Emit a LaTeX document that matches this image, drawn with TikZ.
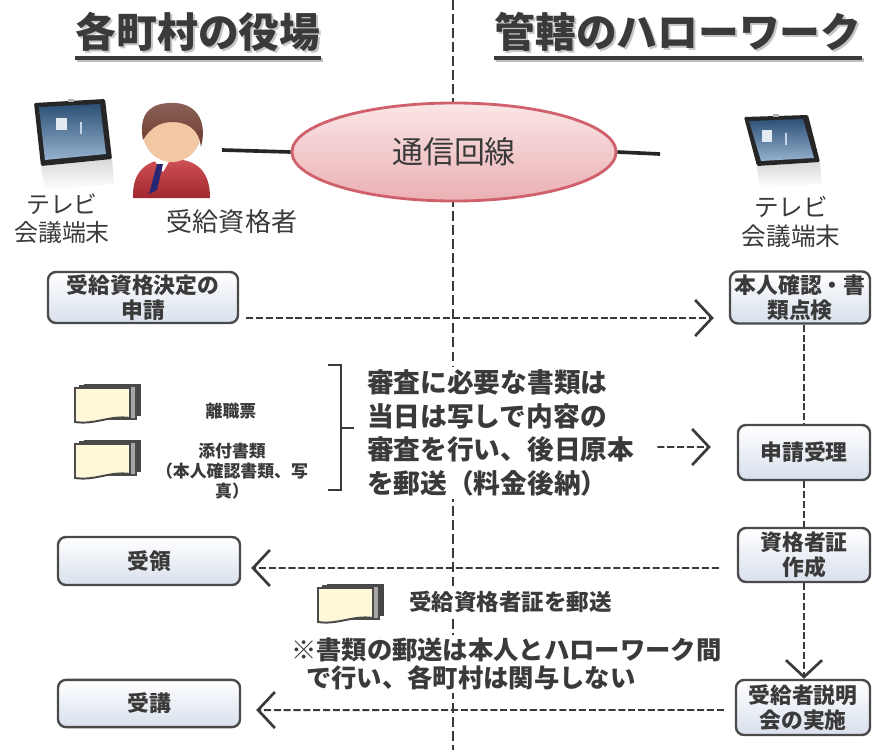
\documentclass[tikz,border=0pt]{standalone}
\usepackage{fontspec}
\setmainfont{Noto Sans CJK JP}
\usetikzlibrary{shapes.geometric,arrows.meta,positioning}
\definecolor{ink}{HTML}{3A3A3A}
\definecolor{boxline}{HTML}{4A4A4A}
\definecolor{boxbot}{HTML}{D8E0EC}
\definecolor{linkred}{HTML}{D0606C}
\definecolor{linktop}{HTML}{FAE6E6}
\definecolor{linkbot}{HTML}{EBB0B4}
\definecolor{paper}{HTML}{FFF8D8}
\definecolor{suit}{HTML}{C8323A}
\definecolor{hair}{HTML}{6E3A2E}
\definecolor{skin}{HTML}{F2C8A4}
\definecolor{screen}{HTML}{3F73A8}
% tablets (left and right)
\def\frameL{(34,103) -- (105,99) -- (112,159) -- (41,166) -- cycle}
\def\screenL{(39,107) -- (100,104) -- (106,154) -- (45,160) -- cycle}
\def\frameR{(744,117) -- (808,115) -- (820,162) -- (757,166) -- cycle}
\def\screenR{(749,121) -- (803,119) -- (814,158) -- (761,161) -- cycle}
% a small stack of sheets
\newcommand{\sheets}[1]{%
  \begin{scope}[shift={#1}]
    \fill[gray!55!black] (9,-1) rectangle (66,31);
    \fill[gray!70] (5,1) rectangle (61,34);
    \draw[boxline,line width=1pt] (5,1) rectangle (61,34);
    \filldraw[fill=paper,draw=boxline,line width=1.4pt] (0,3) -- (55,3) -- (55,33)
      .. controls (35,30) and (20,40) .. (0,37) -- cycle;
  \end{scope}}

\begin{document}
\begin{tikzpicture}[x=0.025cm,y=-0.025cm,
  box/.style={draw=boxline,line width=1.7pt,rounded corners=0.2cm,top color=white,
    bottom color=boxbot,text=ink,align=center,inner sep=0pt,
    font=\bfseries\fontsize{15.5}{17.5}\selectfont},
  darr/.style={draw=ink,line width=1.4pt,dash pattern=on 5pt off 2pt,
    -{Straight Barb[length=4.2mm,width=9mm,line width=1.9pt]}},
  dline/.style={draw=ink,line width=1.4pt,dash pattern=on 5pt off 2pt},
  midline/.style={draw=ink,line width=1.9pt,dash pattern=on 7pt off 3pt},
  title/.style={text=ink,inner sep=0pt,font=\bfseries\fontsize{29}{32}\selectfont},
  lbl/.style={text=ink,align=center,inner sep=1pt},
  wire/.style={draw=gray!30!black,line width=2.6pt}]

\fill[white] (0,0) rectangle (879,750);
\useasboundingbox (0,0) rectangle (879,750);

% divider between the two sides
\draw[midline] (453,0) -- (453,750);

% headings
\node[title,text=gray!45] (hdLs) at (200,34) {各町村の役場};
\node[title] (hdL) at (198,32) {各町村の役場};
\node[title,text=gray!45] (hdRs) at (680,34) {管轄のハローワーク};
\node[title] (hdR) at (678,32) {管轄のハローワーク};
\draw[gray!50,line width=3pt] ([shift={(2,8)}]hdL.south west) -- ([shift={(2,8)}]hdL.south east);
\draw[ink,line width=3pt] ([yshift=-0.15cm]hdL.south west) -- ([yshift=-0.15cm]hdL.south east);
\draw[gray!50,line width=3pt] ([shift={(2,8)}]hdR.south west) -- ([shift={(2,8)}]hdR.south east);
\draw[ink,line width=3pt] ([yshift=-0.15cm]hdR.south west) -- ([yshift=-0.15cm]hdR.south east);

% left tablet
\shade[top color=gray!30,bottom color=white] (41,166) -- (112,159) -- (114,184) -- (45,190) -- cycle;
\fill[gray!30!black,rounded corners=1pt] \frameL;
\shade[top color=screen!70!black,bottom color=screen!55!white] \screenL;
\fill[white!85!screen] (56,118) rectangle (67,130);
\fill[white!70!screen] (80,122) rectangle (82,134);
\fill[gray!60] (68,99) rectangle (74,102);

% person
\shade[top color=suit!85!white,bottom color=suit!80!black]
  (133,198) .. controls (132,170) and (148,159) .. (171,159)
  .. controls (196,159) and (210,170) .. (210,198) -- cycle;
\fill[white] (154,160) -- (163,172) -- (170,160) -- cycle;
\fill[gray!50!blue!60!black] (157,164) -- (163,164) -- (157,190) -- (149,194) -- cycle;
\fill[skin] (172,133) circle[radius=29];
\shade[top color=hair!80!white,bottom color=hair]
  (143,140) .. controls (137,107) and (158,102) .. (176,103)
  .. controls (199,105) and (207,124) .. (201,147)
  .. controls (199,128) and (186,122) .. (172,122)
  .. controls (160,122) and (150,128) .. (143,140) -- cycle;

% right tablet
\shade[top color=gray!30,bottom color=white] (757,166) -- (820,162) -- (822,184) -- (760,188) -- cycle;
\fill[gray!30!black,rounded corners=1pt] \frameR;
\shade[top color=screen!70!black,bottom color=screen!55!white] \screenR;
\fill[white!85!screen] (762,130) rectangle (772,142);
\fill[white!70!screen] (785,133) rectangle (787,145);
\fill[gray!60] (773,114) rectangle (779,117);

% line and its two ends
\coordinate (pr) at (222,150);
\coordinate (tr) at (660,154);
\node[ellipse,minimum width=8.1cm,minimum height=2.45cm,draw=linkred,line width=2pt,
  top color=linktop,bottom color=linkbot,text=ink,
  font=\fontsize{22}{26}\selectfont] (link) at (454,152) {通信回線};
\draw[wire] (pr) -- (link.west);
\draw[wire] (link.east) -- (tr);

\node[lbl,font=\fontsize{17}{20}\selectfont] (tvL) at (62,219) {テレビ\\会議端末};
\node[lbl,font=\fontsize{18.5}{20}\selectfont] (who) at (232,222) {受給資格者};
\node[lbl,font=\fontsize{17.5}{21}\selectfont] (tvR) at (791,222) {テレビ\\会議端末};

% steps
\node[box,minimum width=4.75cm,minimum height=1.275cm] (apply) at (143,297.5) {受給資格決定の\\申請};
\node[box,minimum width=3.5cm,minimum height=1.3cm] (check) at (800,297.5) {本人確認・書\\類点検};
\node[box,minimum width=3.3cm,minimum height=1.375cm] (accept) at (804,452.5) {申請受理};
\node[box,minimum width=3.3cm,minimum height=1.35cm] (cert) at (804,555) {資格者証\\作成};
\node[box,minimum width=3.35cm,minimum height=1.375cm] (brief) at (803,707.5) {受給者説明\\会の実施};
\node[box,minimum width=4.55cm,minimum height=1.2cm] (receipt) at (149,561) {受領};
\node[box,minimum width=4.55cm,minimum height=1.18cm] (attend) at (149,703.5) {受講};

% documents
\sheets{(75,385)}
\sheets{(75,441)}
\sheets{(318,585)}
\node[lbl,font=\bfseries\fontsize{12}{14}\selectfont] (slip) at (231,411) {離職票};
\node[lbl,font=\bfseries\fontsize{12}{14.2}\selectfont] (att) at (232,471) {添付書類\\（本人確認書類、写\\真）};
\draw[ink,line width=1.6pt] (328,365) -- (341,365) -- (341,490) -- (328,490)
  (341,428) -- (354,428);
\node[lbl,fill=white,align=left,anchor=west,inner sep=2pt,
  font=\bfseries\fontsize{19}{24}\selectfont] (exam) at (364,433)
  {審査に必要な書類は\\当日は写しで内容の\\審査を行い、後日原本\\を郵送（料金後納）};
\node[lbl,fill=white,anchor=west,inner sep=2pt,font=\bfseries\fontsize{16}{18}\selectfont] (mail) at (406,602) {受給資格者証を郵送};
\node[lbl,fill=white,align=left,anchor=west,inner sep=2pt,
  font=\bfseries\fontsize{18}{20}\selectfont] (note) at (288,664)
  {※書類の郵送は本人とハローワーク間\\\hspace{0.6em}で行い、各町村は関与しない};

% flow
\draw[darr] ([shift={(0.175cm,-0.5125cm)}]apply.east) -- ([shift={(-0.375cm,-0.5125cm)}]check.west);
\draw[darr] ([shift={(0.5cm,-0.35cm)}]exam.east) -- ([shift={(-0.65cm,0.1375cm)}]accept.west);
\draw[dline] (check.south -| accept.south) -- (accept.north);
\draw[dline] (accept) -- (cert);
\draw[darr] (cert.south) -- (cert.south |- brief.north);
\draw[darr] ([shift={(-0.45cm,-0.325cm)}]cert.west) -- ([shift={(0.25cm,-0.175cm)}]receipt.east);
\draw[darr] ([shift={(-0.275cm,-0.0625cm)}]brief.west) -- ([shift={(0.375cm,-0.1625cm)}]attend.east);
\end{tikzpicture}
\end{document}
